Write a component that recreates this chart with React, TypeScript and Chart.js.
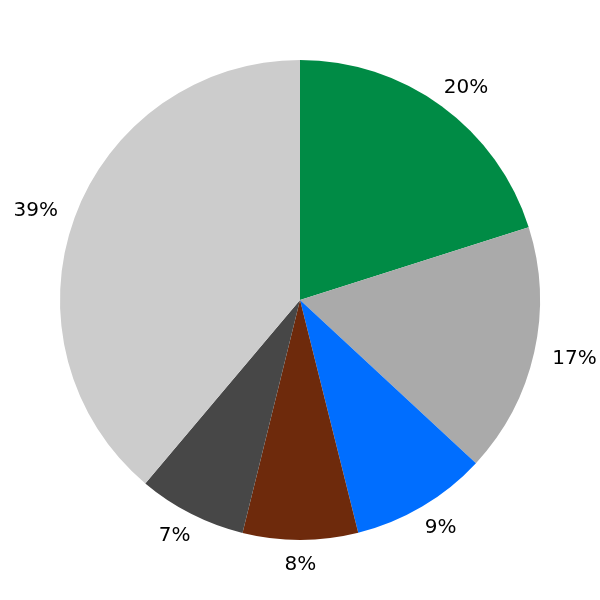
import React, { useEffect, useRef } from "react";
import { Chart, registerables } from "chart.js";

Chart.register(...registerables);

const categories = ["A", "B", "C", "D", "E", "F"];
const values = [20.1, 16.8, 9.2, 7.75, 7.3, 38.85];
const labels = ["20%", "17%", "9%", "8%", "7%", "39%"];
const colors = ["#008B45", "#AAAAAA", "#006EFF", "#6E2A0C", "#474747", "#CCCCCC"];

const outsideLabels = {
  id: "outsideLabels",
  afterDatasetsDraw(chart: any) {
    const ctx = chart.ctx;
    const meta = chart.getDatasetMeta(0);
    ctx.save();
    ctx.font = "20px 'DejaVu Sans'";
    ctx.fillStyle = "#000";
    ctx.textAlign = "center";
    ctx.textBaseline = "middle";
    meta.data.forEach((arc: any, i: number) => {
      const { x, y, startAngle, endAngle, outerRadius } = arc.getProps(
        ["x", "y", "startAngle", "endAngle", "outerRadius"],
        true
      );
      const mid = (startAngle + endAngle) / 2;
      const cx = Math.cos(mid);
      const cy = Math.sin(mid);
      const text = labels[i];
      const w = ctx.measureText(text).width;
      const base = outerRadius * 1.1;
      const px = x + cx * (base + 0.78 * w / 2);
      const py = y + cy * base;
      ctx.fillText(text, px, py + 1);
    });
    ctx.restore();
  },
};

export default function App() {
  const ref = useRef<HTMLCanvasElement>(null);
  useEffect(() => {
    if (!ref.current) return;
    const chart = new Chart(ref.current, {
      type: "pie",
      data: {
        labels: categories,
        datasets: [
          {
            data: values,
            backgroundColor: colors,
            borderWidth: 0,
          },
        ],
      },
      options: {
        responsive: false,
        animation: false,
        layout: { padding: 60 },
        plugins: {
          legend: { display: false },
          tooltip: { enabled: false },
        },
      },
      plugins: [outsideLabels],
    });
    return () => chart.destroy();
  }, []);
  return (
    <div style={{ position: "fixed", left: 0, top: 0, width: 600, height: 600, background: "#fff" }}>
      <canvas ref={ref} width={600} height={600} />
    </div>
  );
}
